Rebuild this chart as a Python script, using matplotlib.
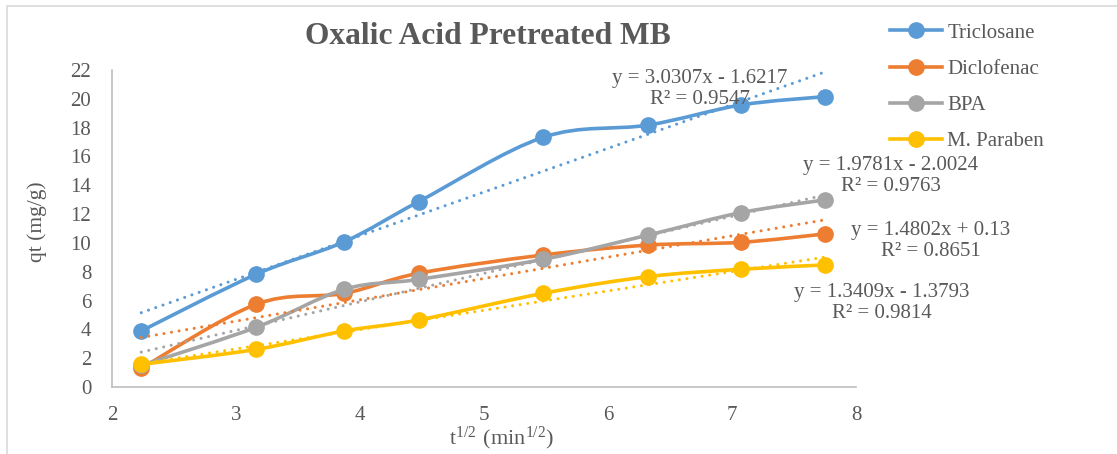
import numpy as np
import matplotlib
matplotlib.use("Agg")
import matplotlib.pyplot as plt
from matplotlib.path import Path
from matplotlib.patches import PathPatch, Rectangle
from matplotlib.lines import Line2D

plt.rcParams['font.family'] = ['Liberation Serif', 'DejaVu Serif']
plt.rcParams['mathtext.fontset'] = 'custom'
plt.rcParams['mathtext.rm'] = 'Liberation Serif'

# Data (x = sqrt(t))
sqrt_t = [2.236, 3.162, 3.873, 4.472, 5.477, 6.325, 7.071, 7.746]
triclosane = [3.89, 7.82, 10.08, 12.86, 17.33, 18.18, 19.57, 20.15]
diclofenac = [1.30, 5.74, 6.50, 7.89, 9.16, 9.85, 10.04, 10.62]
bpa = [1.50, 4.14, 6.78, 7.47, 8.86, 10.55, 12.10, 12.98]
m_paraben = [1.57, 2.61, 3.89, 4.65, 6.50, 7.66, 8.17, 8.47]

series_names = ['Triclosane', 'Diclofenac', 'BPA', 'M. Paraben']
series_values = [triclosane, diclofenac, bpa, m_paraben]

# Trendline coefficients as printed on the chart
slopes = [3.0307, 1.4802, 1.9781, 1.3409]
intercepts = [-1.6217, 0.13, -2.0024, -1.3793]
r_squared = [0.9547, 0.8651, 0.9763, 0.9814]

colors = ['#5B9BD5', '#ED7D31', '#A5A5A5', '#FFC000']
text_color = '#595959'
# label centres in figure pixels (x, y from top)
eq_pos = [(700, 89), (931, 241), (891, 176), (882, 303)]

W, H = 1117, 454


def smooth_path(xs, ys):
    # Excel-like smoothed line: cubic Bezier with Catmull-Rom style control points
    pts = np.column_stack([xs, ys])
    n = len(pts)
    verts = [pts[0]]
    codes = [Path.MOVETO]
    for i in range(n - 1):
        p0 = pts[max(i - 1, 0)]
        p1 = pts[i]
        p2 = pts[i + 1]
        p3 = pts[min(i + 2, n - 1)]
        c1 = p1 + (p2 - p0) / 6.0
        c2 = p2 - (p3 - p1) / 6.0
        verts += [c1, c2, p2]
        codes += [Path.CURVE4] * 3
    return Path(verts, codes)


fig = plt.figure(figsize=(W / 100, H / 100), dpi=100)
ax = fig.add_axes([112 / W, 1 - 387 / H, (856 - 112) / W, (387 - 70) / H])

# outer chart frame (cropped on right/bottom)
fig.patches.append(Rectangle((7 / W, -0.2), 1.2, 1.2 - 6 / H, transform=fig.transFigure,
                             fill=False, edgecolor='#D9D9D9', lw=1.2))

x = np.array(sqrt_t)
handles = []
for i, (name, vals) in enumerate(zip(series_names, series_values)):
    c = colors[i]
    ax.add_patch(PathPatch(smooth_path(x, vals), fill=False, edgecolor=c, lw=2.6,
                           capstyle='round', joinstyle='round', zorder=2 + i * 0.1))
    ax.plot(x, vals, 'o', color=c, markersize=11, zorder=2.05 + i * 0.1)
    handles.append(Line2D([], [], color=c, lw=2.6, marker='o', markersize=11, label=name))

# dotted linear trendlines
xt = np.array([x.min(), x.max()])
for i in range(4):
    ax.plot(xt, slopes[i] * xt + intercepts[i], color=colors[i], lw=2.2,
            linestyle=(0, (0.01, 2.5)), dash_capstyle='round', zorder=3)

# equation labels
for i in range(4):
    sign = '-' if intercepts[i] < 0 else '+'
    label = f'y = {slopes[i]:.4f}x {sign} {abs(intercepts[i]):g}\nR² = {r_squared[i]:.4f}'
    px, py = eq_pos[i]
    fig.text(px / W, 1 - py / H, label, ha='center', va='center', multialignment='center',
             fontsize=15, color=text_color, zorder=5)

ax.set_xlim(2, 8)
ax.set_ylim(0, 22)
ax.set_xticks(range(2, 9))
ax.set_yticks(range(0, 23, 2))
ax.tick_params(length=0, labelsize=15, labelcolor=text_color)
ax.tick_params(axis='x', pad=14)
ax.tick_params(axis='y', pad=15)
for s in ['top', 'right']:
    ax.spines[s].set_visible(False)
for s in ['left', 'bottom']:
    ax.spines[s].set_color('#BFBFBF')
    ax.spines[s].set_linewidth(1.2)

fig.text(488 / W, 1 - 44 / H, 'Oxalic Acid Pretreated MB', ha='center', va='baseline',
         fontsize=22.7, fontweight='bold', color=text_color)
fig.text(37 / W, 1 - 222 / H, 'qt (mg/g)', rotation=90, ha='center', va='center',
         fontsize=15.5, color=text_color)
fig.text(502 / W, 1 - 438 / H, r'$\mathregular{t^{1/2}\ (min^{1/2})}$', ha='center', va='center',
         fontsize=16, color=text_color)

fig.legend(handles=handles, loc='upper left', bbox_to_anchor=(890 / W, 1 - 23 / H),
           frameon=False, fontsize=15, handlelength=2.5, handletextpad=0.25,
           labelspacing=0.8, borderpad=0, borderaxespad=0, labelcolor=text_color)

fig.savefig('out.png', dpi=100)
